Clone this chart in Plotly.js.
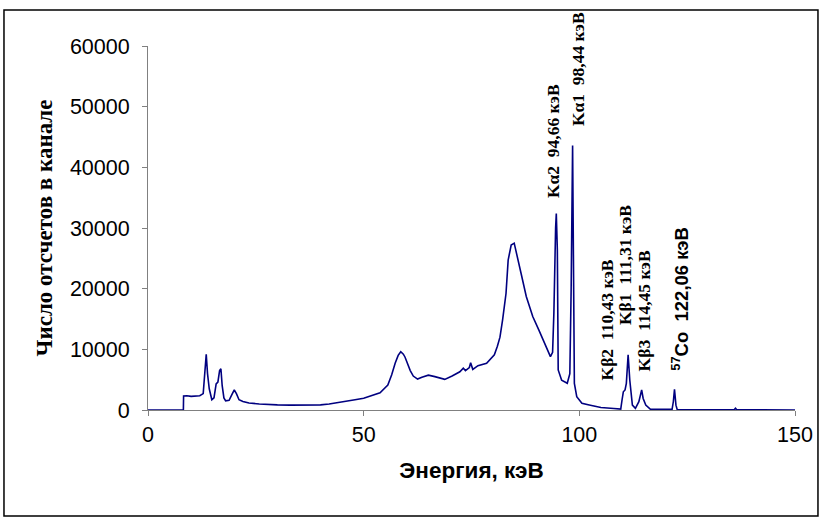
<!DOCTYPE html>
<html>
<head>
<meta charset="utf-8">
<script src="https://cdn.plot.ly/plotly-3.0.1.min.js"></script>
<style>html,body{margin:0;padding:0;background:#fff;}</style>
</head>
<body>
<div id="chart" style="width:822px;height:520px;"></div>
<script>
// Spectrum: energy (keV) and counts per channel
const energy = [0, 8.2, 8.25, 9, 10, 11, 12, 12.8, 13.2, 13.5, 13.8, 14.2, 14.8, 15.3, 15.8, 16.2, 16.6, 16.9, 17.2, 17.6, 18, 18.8, 19.5, 20, 20.5, 21.1, 22, 23.4, 25.8, 28, 30, 33, 36, 40, 42, 45, 48, 50, 52, 53.8, 55.6, 56.5, 57.3, 58, 58.6, 59.2, 59.6, 60.2, 60.8, 61.5, 62.5, 63.5, 65, 66.5, 68.8, 70.5, 72.3, 73.1, 73.6, 74.5, 74.8, 75.3, 76.5, 78.5, 80.3, 81, 81.6, 82.2, 83, 83.5, 84.2, 84.9, 85.5, 86.5, 87.7, 88.5, 89.2, 90.6, 92.3, 93.3, 93.8, 94.1, 94.5, 94.66, 94.9, 95.1, 95.9, 97.2, 97.8, 98.1, 98.44, 98.7, 98.85, 99.4, 100.6, 102.3, 105, 108, 109.6, 109.9, 110.2, 110.6, 110.9, 111.31, 111.7, 112.3, 113, 113.8, 114.45, 114.8, 115.4, 116.5, 120, 121.5, 121.8, 122.06, 122.4, 122.7, 130, 135.9, 136.2, 136.5, 150];
const counts = [0, 0, 2300, 2350, 2250, 2300, 2350, 2700, 6000, 9200, 6000, 3500, 1700, 2000, 4300, 4600, 6500, 6800, 4000, 2000, 1500, 1600, 2600, 3300, 2700, 1700, 1400, 1150, 1000, 900, 850, 800, 800, 850, 990, 1300, 1700, 1950, 2400, 2850, 4100, 5800, 7700, 9000, 9600, 9200, 8700, 7500, 6500, 5600, 5100, 5400, 5750, 5500, 5050, 5600, 6300, 6900, 6500, 7000, 7800, 6700, 7300, 7700, 9100, 10500, 12000, 14800, 19200, 24700, 27200, 27500, 25800, 22500, 18700, 17000, 15400, 13200, 10400, 8800, 9500, 16000, 30000, 32400, 26400, 6600, 4900, 4400, 6000, 19800, 43600, 20000, 4400, 2200, 1100, 820, 400, 250, 160, 1650, 3000, 3300, 4400, 9100, 4900, 820, 280, 1370, 3300, 1900, 820, 110, 50, 100, 1400, 3400, 800, 50, 30, 30, 300, 30, 0];

const xTicks = [0, 50, 100, 150];
const yTicks = [0, 10000, 20000, 30000, 40000, 50000, 60000];

// Peak labels
const labelText = ["K\u03b12\u00a0\u00a094,66 \u043a\u044d\u0412", "K\u03b11\u00a0\u00a098,44 \u043a\u044d\u0412", "K\u03b22\u00a0\u00a0110,43 \u043a\u044d\u0412", "K\u03b21\u00a0\u00a0111,31 \u043a\u044d\u0412", "K\u03b23\u00a0\u00a0114,45 \u043a\u044d\u0412", "<sup>57</sup>Co\u00a0\u00a0122,06 \u043a\u044d\u0412"];
const labelX = [93.9, 99.7, 106.4, 110.6, 115.2, 123.3];
const labelY = [34600, 46470, 4610, 13680, 6100, 6100];
const labelFont = ["Liberation Serif", "Liberation Serif", "Liberation Serif", "Liberation Serif", "Liberation Serif", "Liberation Sans"];
const labelSize = [17.5, 17.5, 17.5, 17.5, 17.5, 18.5];

const trace = {
  x: energy, y: counts, type: 'scatter', mode: 'lines',
  line: {color: '#000080', width: 1.6}, hoverinfo: 'skip', cliponaxis: false
};

const annotations = labelText.map((t, i) => ({
  x: labelX[i], y: labelY[i], xref: 'x', yref: 'y', text: '<b>' + t + '</b>',
  showarrow: false, textangle: -90, xanchor: 'center', yanchor: 'bottom',
  font: {family: labelFont[i], size: labelSize[i], color: '#000'}
}));

const axisCommon = {
  showline: true, linecolor: '#808080', linewidth: 1, ticks: 'outside', ticklen: 5,
  tickcolor: '#808080', showgrid: false, zeroline: false,
  tickfont: {family: 'Liberation Sans', size: 21.5, color: '#000'}
};

const layout = {
  width: 822, height: 520,
  margin: {l: 148, r: 27, t: 46, b: 110},
  paper_bgcolor: '#fff', plot_bgcolor: '#fff',
  showlegend: false,
  xaxis: Object.assign({}, axisCommon, {
    range: [0, 150], tickvals: xTicks, ticktext: xTicks.map(String),
    title: {text: '<b>\u042d\u043d\u0435\u0440\u0433\u0438\u044f, \u043a\u044d\u0412</b>', standoff: 16,
      font: {family: 'Liberation Sans', size: 22.5, color: '#000'}}
  }),
  yaxis: Object.assign({}, axisCommon, {
    range: [0, 60000], tickvals: yTicks, ticktext: yTicks.map(String), ticklabelstandoff: 8,
    title: {text: '<b>\u0427\u0438\u0441\u043b\u043e \u043e\u0442\u0441\u0447\u0435\u0442\u043e\u0432 \u0432 \u043a\u0430\u043d\u0430\u043b\u0435</b>', standoff: 10,
      font: {family: 'Liberation Serif', size: 23, color: '#000'}}
  }),
  annotations: annotations,
  shapes: [{type: 'rect', xref: 'paper', yref: 'paper', x0: -0.2226, x1: 1.0355, y0: -0.2912, y1: 1.0989,
    line: {color: '#000', width: 1.5}, fillcolor: 'rgba(0,0,0,0)', layer: 'below'}]
};

Plotly.newPlot('chart', [trace], layout, {displayModeBar: false, staticPlot: true});
</script>
</body>
</html>
